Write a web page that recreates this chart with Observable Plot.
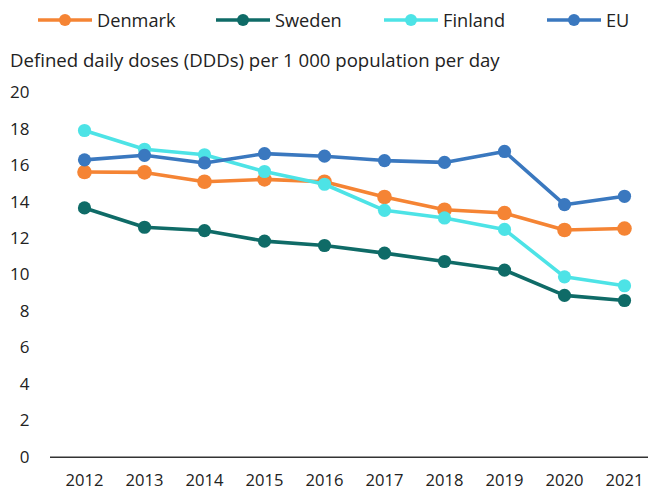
<!DOCTYPE html>
<html>
<head>
<meta charset="utf-8">
<script src="https://cdn.jsdelivr.net/npm/d3@7"></script>
<script src="https://cdn.jsdelivr.net/npm/@observablehq/plot@0.6"></script>
<style>
  body { margin: 0; background: #fff; font-family: "Open Sans", sans-serif; color: #222; }
  #wrap { position: relative; width: 648px; height: 490px; overflow: hidden; }
  #legend { position: absolute; left: 0; top: 0; width: 648px; height: 40px; }
  #subtitle { position: absolute; left: 10px; top: 47px; font-size: 18.6px; line-height: 26px; white-space: nowrap; color: #222; }
  #chart { position: absolute; left: 0; top: 78px; }
</style>
</head>
<body>
<div id="wrap">
  <svg id="legend" width="648" height="40"></svg>
  <div id="subtitle">Defined daily doses (DDDs) per 1 000 population per day</div>
  <div id="chart"></div>
</div>
<script>
const years = ["2012","2013","2014","2015","2016","2017","2018","2019","2020","2021"];
const denmark = [15.65, 15.63, 15.12, 15.25, 15.12, 14.28, 13.58, 13.4, 12.47, 12.55];
const sweden  = [13.68, 12.62, 12.44, 11.86, 11.62, 11.2, 10.74, 10.27, 8.88, 8.6];
const finland = [17.93, 16.9, 16.6, 15.68, 14.98, 13.55, 13.13, 12.5, 9.9, 9.41];
const eu      = [16.32, 16.57, 16.15, 16.66, 16.52, 16.28, 16.18, 16.78, 13.86, 14.32];
const seriesNames = ["Denmark", "Sweden", "Finland", "EU"];
const seriesColors = ["#F58434", "#0F6B67", "#4DE3E6", "#3A78BF"];
const yTicks = [0, 2, 4, 6, 8, 10, 12, 14, 16, 18, 20];

const seriesValues = [denmark, sweden, finland, eu];
const data = [];
seriesNames.forEach((name, i) => {
  years.forEach((yr, j) => data.push({series: name, year: yr, value: seriesValues[i][j]}));
});

const dotMarks = seriesNames.map((name, i) =>
  Plot.dot(data.filter(d => d.series === name), {
    x: "year", y: "value", fill: seriesColors[i], stroke: null, r: name === "Denmark" ? 7.3 : 6.6
  })
);
const lineMarks = seriesNames.map((name, i) =>
  Plot.line(data.filter(d => d.series === name), {
    x: "year", y: "value", stroke: seriesColors[i], strokeWidth: 3.6
  })
);
const seriesMarks = [];
seriesNames.forEach((n, i) => { seriesMarks.push(lineMarks[i], dotMarks[i]); });

const plot = Plot.plot({
  width: 648,
  height: 412,
  marginLeft: 50,
  marginRight: 0,
  marginTop: 14.3,
  marginBottom: 33.3,
  style: { fontFamily: "Open Sans, sans-serif", fontSize: "17px", color: "#222", background: "transparent", overflow: "visible" },
  x: { type: "point", domain: years, range: [80.7, 626.7], padding: 0, label: null },
  y: { domain: [0, 20], label: null },
  marks: [
    Plot.ruleY(yTicks.filter(d => d > 0), { stroke: "#e3e3e3", strokeWidth: 1.5, x1: 50.7, x2: 648 }),
    Plot.ruleY([0], { stroke: "#333", strokeWidth: 1.5 }),
    Plot.axisX({ tickSize: 0, tickPadding: 17, fontSize: 16.6, fill: "#222" }),
    Plot.axisY({ ticks: yTicks, tickSize: 0, tickPadding: 21, fontSize: 17, fill: "#222" }),
    ...seriesMarks
  ]
});
document.getElementById("chart").appendChild(plot);

// Legend
const lg = d3.select("#legend");
const legendX = [38, 216, 384, 547];
seriesNames.forEach((name, i) => {
  const x0 = legendX[i];
  const g = lg.append("g");
  g.append("line").attr("x1", x0).attr("x2", x0 + 54).attr("y1", 20).attr("y2", 20)
    .attr("stroke", seriesColors[i]).attr("stroke-width", 3.6);
  g.append("circle").attr("cx", x0 + 27).attr("cy", 20).attr("r", 6).attr("fill", seriesColors[i]);
  g.append("text").attr("x", x0 + 59).attr("y", 20.5).attr("dy", "0.35em")
    .attr("font-family", "Open Sans, sans-serif").attr("font-size", 18.2).attr("fill", "#222").text(name);
});
</script>
</body>
</html>
